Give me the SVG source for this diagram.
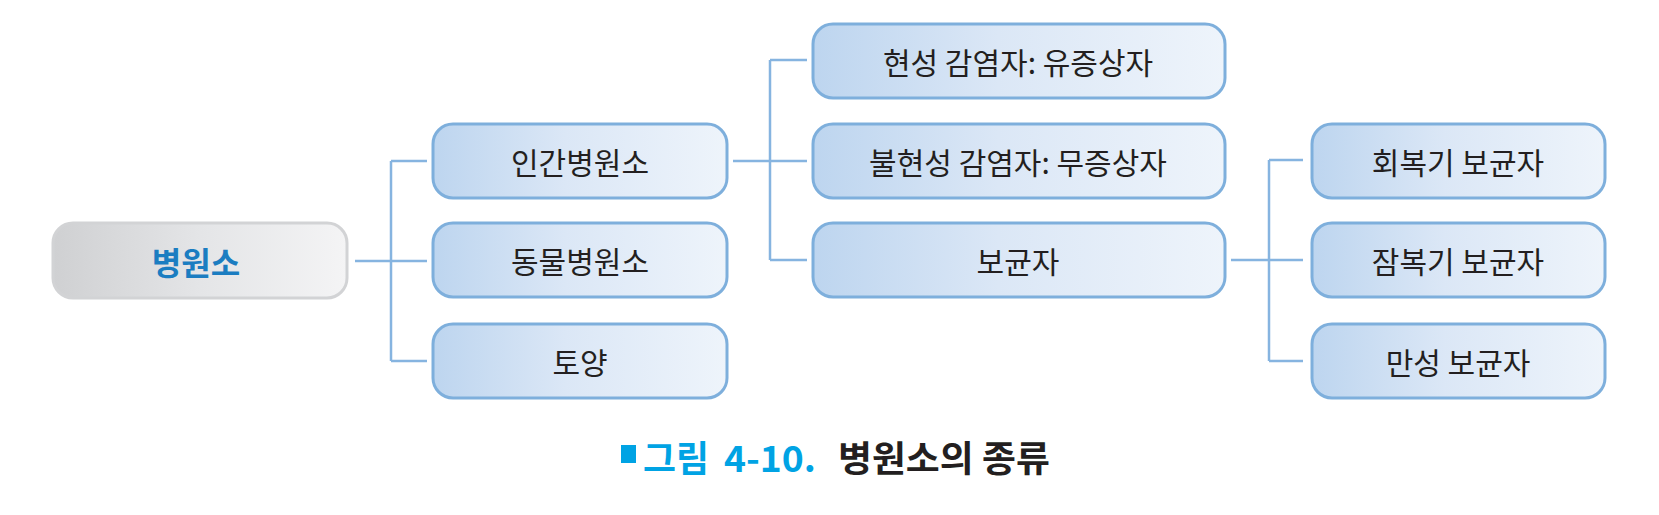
<svg xmlns="http://www.w3.org/2000/svg" width="1659" height="515" viewBox="0 0 1659 515">
<defs>
<linearGradient id="gBlue" x1="0" y1="0" x2="1" y2="0">
<stop offset="0" stop-color="#bdd5ef"/>
<stop offset="0.45" stop-color="#dbe7f6"/>
<stop offset="1" stop-color="#eef4fb"/>
</linearGradient>
<linearGradient id="gGray" x1="0" y1="0" x2="1" y2="0">
<stop offset="0" stop-color="#cfd0d2"/>
<stop offset="0.5" stop-color="#e4e5e7"/>
<stop offset="1" stop-color="#f4f4f5"/>
</linearGradient>
<style>
.box{fill:url(#gBlue);stroke:#7eafdc;stroke-width:3}
.root{fill:url(#gGray);stroke:#d2d3d5;stroke-width:3}
.lbl{font-family:"Noto Sans CJK KR","Noto Sans",sans-serif;font-size:30px;fill:#231f20;text-anchor:middle;dominant-baseline:central}
.rootlbl{font-family:"Noto Sans CJK KR","Noto Sans",sans-serif;font-size:32px;font-weight:bold;fill:#1b7dc1;text-anchor:middle;dominant-baseline:central}
.conn{fill:none;stroke:#86b4e0;stroke-width:2.5}
.cap{font-family:"Noto Sans CJK KR","Noto Sans",sans-serif;font-size:36px;font-weight:bold;dominant-baseline:central}
</style>
</defs>
<rect width="1659" height="515" fill="#ffffff"/>
<g id="connectors">
<path class="conn" d="M355 261 H391 M391 161 V361 M391 161 H427 M391 261 H427 M391 361 H427"/>
<path class="conn" d="M733 161 H807 M770 60 V260 M770 60 H807 M770 260 H807"/>
<path class="conn" d="M1231 260 H1303 M1269 160 V361 M1269 160 H1303 M1269 361 H1303"/>
</g>
<g id="n-root"><rect class="root" x="53" y="223" width="294" height="75" rx="20"/><text class="rootlbl" x="196" y="261">병원소</text></g>
<g id="n-human"><rect class="box" x="433" y="124" width="294" height="74" rx="20"/><text class="lbl" x="580" y="161">인간병원소</text></g>
<g id="n-animal"><rect class="box" x="433" y="223" width="294" height="74" rx="20"/><text class="lbl" x="580" y="260">동물병원소</text></g>
<g id="n-soil"><rect class="box" x="433" y="324" width="294" height="74" rx="20"/><text class="lbl" x="580" y="361">토양</text></g>
<g id="n-overt"><rect class="box" x="813" y="24" width="412" height="74" rx="20"/><text class="lbl" x="1018" y="61">현성 감염자: 유증상자</text></g>
<g id="n-inapp"><rect class="box" x="813" y="124" width="412" height="74" rx="20"/><text class="lbl" x="1018" y="161">불현성 감염자: 무증상자</text></g>
<g id="n-carrier"><rect class="box" x="813" y="223" width="412" height="74" rx="20"/><text class="lbl" x="1018" y="260">보균자</text></g>
<g id="n-conv"><rect class="box" x="1312" y="124" width="293" height="74" rx="20"/><text class="lbl" x="1458" y="161">회복기 보균자</text></g>
<g id="n-incub"><rect class="box" x="1312" y="223" width="293" height="74" rx="20"/><text class="lbl" x="1458" y="260">잠복기 보균자</text></g>
<g id="n-chronic"><rect class="box" x="1312" y="324" width="293" height="74" rx="20"/><text class="lbl" x="1458" y="361">만성 보균자</text></g>
<g id="caption">
<rect x="621" y="445" width="15" height="18" fill="#00a3e4"/>
<text class="cap" x="643" y="456" fill="#00a3e4" textLength="66" lengthAdjust="spacingAndGlyphs">그림</text>
<text class="cap" x="724" y="456" fill="#00a3e4" textLength="92" lengthAdjust="spacingAndGlyphs">4-10.</text>
<text class="cap" x="838" y="456" fill="#231f20" textLength="212" lengthAdjust="spacingAndGlyphs">병원소의 종류</text>
</g>
</svg>
